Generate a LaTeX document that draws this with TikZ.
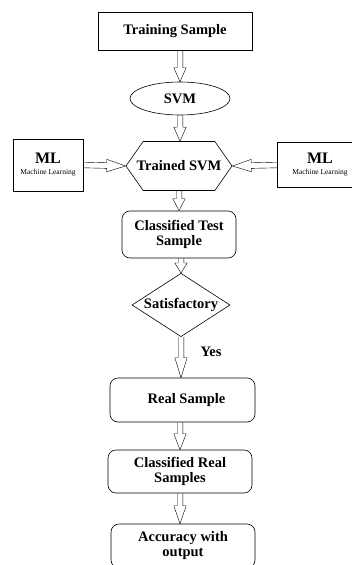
\documentclass[tikz,border=0pt]{standalone}
\usepackage{fontspec}
\setmainfont{Liberation Serif}
\usetikzlibrary{shapes.geometric,shapes.symbols,calc}

\tikzset{
  block/.style={draw, line width=0.6pt, font=\fontsize{14.5}{15}\selectfont\bfseries, align=center, inner sep=2pt},
  roundblock/.style={block, rounded corners=8pt},
  mlbox/.style={block, font=\fontsize{16}{12}\selectfont\bfseries},
  hollow/.style={line width=0.6pt, to path={let \p1=($(\tikztotarget)!#1!(\tikztostart)$) in
    ($(\tikztostart)!2.8pt!90:(\tikztotarget)$) -- ($(\p1)!2.8pt!90:(\tikztotarget)$)
    -- ($(\p1)!6.2pt!90:(\tikztotarget)$) -- (\tikztotarget)
    -- ($(\p1)!6.2pt!-90:(\tikztotarget)$) -- ($(\p1)!2.8pt!-90:(\tikztotarget)$)
    -- ($(\tikztostart)!2.8pt!-90:(\tikztotarget)$)}},
  hollow/.default=14pt
}

\begin{document}
\begin{tikzpicture}[x=1pt, y=-1pt]
\useasboundingbox (0,0) rectangle (351,565);
\node[block, minimum width=154pt, minimum height=38pt] (train) at (175,31) {Training Sample};
\node[block, ellipse, inner sep=0pt, minimum width=100pt, minimum height=33pt] (svm) at (180,98.5) {SVM};
\node[block, signal, signal to=west and east, signal pointer angle=110, inner xsep=-8pt, minimum width=106pt, minimum height=49pt] (tsvm) at (179,166) {Trained SVM};
\node[mlbox, minimum width=70pt, minimum height=52pt] (mll) at (48,165) {ML\\[-1pt]{\fontsize{7.5}{8}\selectfont\mdseries Machine Learning}};
\node[mlbox, minimum width=86pt, minimum height=45pt] (mlr) at (320,165) {ML\\[-1pt]{\fontsize{7.5}{8}\selectfont\mdseries Machine Learning}};
\node[roundblock, minimum width=114pt, minimum height=47pt] (cts) at (179,234.5) {Classified Test\\Sample};
\node[block, diamond, aspect=1.53, inner sep=0.5pt, minimum width=98pt] (sat) at (181,305) {Satisfactory};
\node[font=\fontsize{14.5}{15}\selectfont\bfseries] (yes) at (211,352) {Yes};
\node[roundblock, minimum width=145pt, minimum height=44pt] (real) at (182.5,400) {\hspace*{8pt}Real Sample};
\node[roundblock, minimum width=144pt, minimum height=43pt] (crs) at (180,471.5) {Classified Real\\Samples};
\node[roundblock, minimum width=144pt, minimum height=44pt] (acc) at (183,546) {Accuracy with\\output};

\draw (train.south -| svm.north) to[hollow] (svm.north);
\draw (svm.south) to[hollow] (svm.south |- tsvm.north);
\draw (mll.east) to[hollow=19pt] (tsvm.west);
\draw (mlr.west) to[hollow=19pt] (tsvm.east);
\draw (tsvm.south -| cts.north) to[hollow=12pt] (cts.north);
\draw (cts.south -| sat.north) to[hollow=10pt] (sat.north);
\draw (sat.south) to[hollow=20pt] (sat.south |- real.north);
\draw (real.south -| crs.north) to[hollow=16pt] (crs.north);
\draw (crs.south) to[hollow=18pt] (crs.south |- acc.north);
\end{tikzpicture}
\end{document}
